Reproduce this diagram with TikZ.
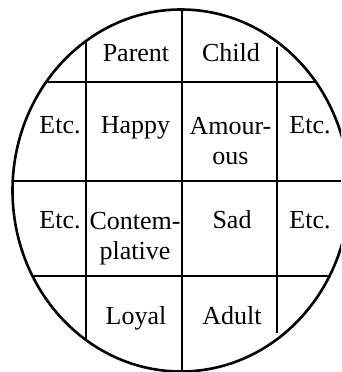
\documentclass[tikz,border=0pt]{standalone}
\usepackage{fontspec}
\setmainfont{Liberation Serif}

\begin{document}
\begin{tikzpicture}[x=1pt,y=-1pt,line width=2.6pt,
  cell/.style={anchor=base,inner sep=0pt,align=center,
    font=\fontsize{26}{30}\selectfont}]
  \useasboundingbox (0,0) rectangle (341,372);
  \clip (0,0) rectangle (341,372);
  \draw (181,190.5) ellipse [x radius=168.5, y radius=181];
  % grid, cut at the rim
  \begin{scope}
    \clip (181,190.5) ellipse [x radius=168.5, y radius=181];
    \draw (86,0) -- (86,372);
    \draw (182,0) -- (182,372);
    \draw (0,82) -- (341,82);
    \draw (0,181) -- (341,181);
    \draw (0,276) -- (341,276);
  \end{scope}
  \draw (277,47) -- (277,333);
  % cells (two-line ones sit on their last line)
  \node[cell] (parent) at (136,61) {Parent};
  \node[cell] (child) at (231,61) {Child};
  \node[cell] (etcA) at (60,133) {Etc.};
  \node[cell] (happy) at (135.5,133) {Happy};
  \node[cell] (amourous) at (230.5,164) {Amour-\\ous};
  \node[cell] (etcB) at (310,133) {Etc.};
  \node[cell] (etcC) at (60,228) {Etc.};
  \node[cell] (contemplative) at (135,259) {Contem-\\plative};
  \node[cell] (sad) at (232,228) {Sad};
  \node[cell] (etcD) at (310,228) {Etc.};
  \node[cell] (loyal) at (136,324) {Loyal};
  \node[cell] (adult) at (232,324) {Adult};
\end{tikzpicture}
\end{document}
